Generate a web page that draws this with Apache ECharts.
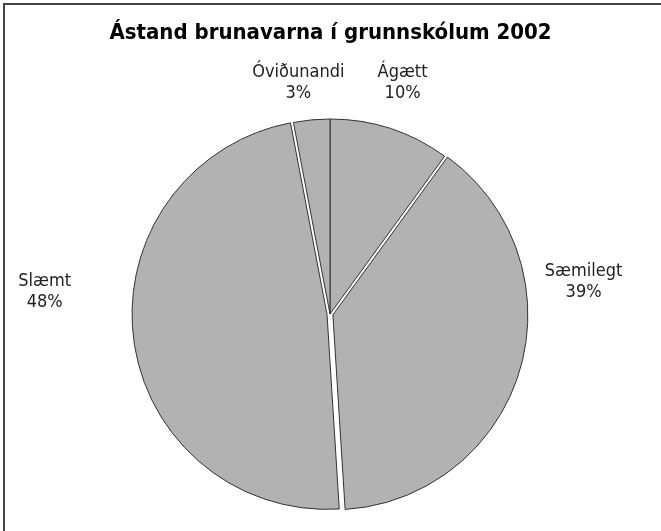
<!DOCTYPE html>
<html>
<head>
<meta charset="utf-8">
<script src="https://cdn.jsdelivr.net/npm/echarts@6/dist/echarts.min.js"></script>
<style>
  html, body { margin: 0; padding: 0; background: #fff; }
  #chart { width: 661px; height: 531px; }
</style>
</head>
<body>
<div id="chart"></div>
<script>
// Slice names and shares (percent), clockwise from 12 o'clock
const categories = ["Ágætt", "Sæmilegt", "Slæmt", "Óviðunandi"];
const shares = [10, 39, 48, 3];
// slices pulled out from the centre in the original
const pulledOut = ["Sæmilegt", "Slæmt"];

// small nudges so the labels sit where the original put them
const labelNudge = {
  "Ágætt": [3, -32],
  "Sæmilegt": [45, -91],
  "Slæmt": [-70, -49],
  "Óviðunandi": [-7, -23],
};

const labelFont = "'DejaVu Sans Condensed', 'Liberation Sans', sans-serif";

const chartDom = document.getElementById("chart");
const myChart = echarts.init(chartDom);

const option = {
  animation: false,
  title: {
    text: "Ástand brunavarna í grunnskólum 2002",
    left: "center",
    top: 17,
    textStyle: {
      fontFamily: labelFont,
      fontWeight: "bold",
      fontSize: 22,
      color: "#000",
    },
  },
  graphic: [
    {
      type: "rect",
      shape: { x: 4, y: 4, width: 720, height: 600 },
      style: { fill: "none", stroke: "#444", lineWidth: 2 },
      silent: true,
    },
  ],
  series: [
    {
      type: "pie",
      center: [330, 314],
      radius: [0, 195],
      startAngle: 90,
      clockwise: true,
      selectedMode: "multiple",
      selectedOffset: 3,
      silent: true,
      itemStyle: {
        color: "#b2b2b2",
        borderColor: "#333",
        borderWidth: 1,
      },
      select: {
        itemStyle: { color: "#b2b2b2", borderColor: "#333", borderWidth: 1 },
      },
      label: {
        show: true,
        position: "outside",
        formatter: "{b}\n{c}%",
        fontFamily: labelFont,
        fontSize: 18,
        lineHeight: 21,
        color: "#222",
      },
      labelLine: { show: false, length: 14, length2: 0 },
      labelLayout: (params) => {
        const nudge = labelNudge[params.text.split("\n")[0]] || [0, 0];
        return { align: "center", dx: nudge[0], dy: nudge[1] };
      },
      data: categories.map((name, i) => ({
        name: name,
        value: shares[i],
        selected: pulledOut.includes(name),
      })),
    },
  ],
};

option && myChart.setOption(option);
</script>
</body>
</html>
